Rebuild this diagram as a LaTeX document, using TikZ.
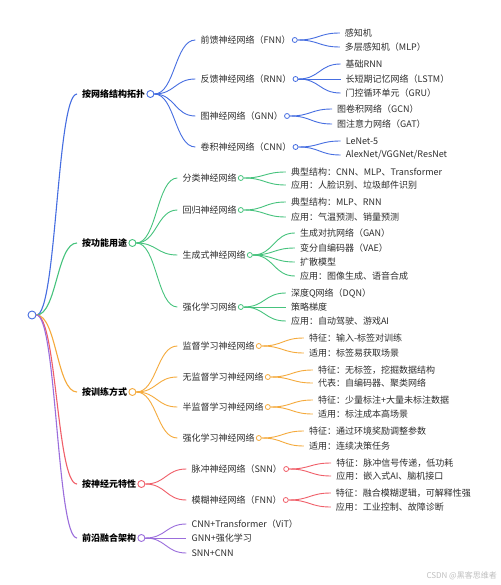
\documentclass[tikz,border=0pt]{standalone}
\usepackage{fontspec}
\setmainfont{Noto Sans CJK SC}
\usetikzlibrary{calc}
\definecolor{blueL}{RGB}{70,110,225}
\definecolor{greenL}{RGB}{70,195,125}
\definecolor{orangeL}{RGB}{245,170,60}
\definecolor{redL}{RGB}{240,95,105}
\definecolor{purpleL}{RGB}{155,110,220}
\definecolor{txtgray}{RGB}{45,45,45}
\tikzset{
  txt/.style={anchor=west, inner sep=0pt, text=txtgray, font=\fontsize{9pt}{11pt}\selectfont},
  l1txt/.style={anchor=west, inner sep=0pt, text=black, font=\fontsize{9pt}{11pt}\selectfont\bfseries},
  dot/.style={circle, draw=#1, fill=white, inner sep=0pt, minimum size=5pt, line width=0.8pt},
  l1dot/.style={circle, draw=#1, fill=white, inner sep=0pt, minimum size=7pt, line width=0.9pt},
  link/.style={draw=#1, line width=0.9pt, to path={let \p1=(\tikztostart), \p2=(\tikztotarget) in
     .. controls ({(\x1+\x2)/2},\y1) and ({(\x1+\x2)/2},\y2) .. (\tikztotarget)}},
}
\newcommand\mmleaf[5]{%
  \coordinate (#2x) at ([xshift=50pt]#1.center);
  \node[txt] (#2) at (#2x |- 0,#3) {#4};
  \draw[link=#5] (#1.east) to ([xshift=-5pt]#2.west);
}
\newcommand\mmmid[5]{%
  \mmleaf{#1}{#2}{#3}{#4}{#5}
  \node[dot=#5] (#2c) at ([xshift=4pt]#2.east) {};
}
\newcommand\mmtop[4]{% name, y, text, color
  \node[l1txt] (#1) at (82,#2) {#3};
  \draw[link=#4, line width=1.1pt] (R.east) to ([xshift=-5pt]#1.west);
  \node[l1dot=#4] (#1c) at ([xshift=5pt]#1.east) {};
}
\begin{document}
\begin{tikzpicture}[x=1pt,y=-1pt]
\fill[white] (0,0) rectangle (500,585);
\useasboundingbox (0,0) rectangle (500,585);
\node[circle, draw=blueL, fill=white, inner sep=0pt, minimum size=8pt, line width=0.9pt] (R) at (32,315) {};
\mmtop{A}{94}{按网络结构拓扑}{blueL}
\mmtop{B}{243}{按功能用途}{greenL}
\mmtop{C}{392}{按训练方式}{orangeL}
\mmtop{D}{484}{按神经元特性}{redL}
\mmtop{E}{538}{前沿融合架构}{purpleL}
% blue
\mmmid{Ac}{A1}{40}{前馈神经网络（FNN）}{blueL}
\mmmid{Ac}{A2}{79}{反馈神经网络（RNN）}{blueL}
\mmmid{Ac}{A3}{116}{图神经网络（GNN）}{blueL}
\mmmid{Ac}{A4}{147}{卷积神经网络（CNN）}{blueL}
\mmleaf{A1c}{A11}{33}{感知机}{blueL}
\mmleaf{A1c}{A12}{47}{多层感知机（MLP）}{blueL}
\mmleaf{A2c}{A21}{64}{基础RNN}{blueL}
\mmleaf{A2c}{A22}{79}{长短期记忆网络（LSTM）}{blueL}
\mmleaf{A2c}{A23}{93}{门控循环单元（GRU）}{blueL}
\mmleaf{A3c}{A31}{109}{图卷积网络（GCN）}{blueL}
\mmleaf{A3c}{A32}{124}{图注意力网络（GAT）}{blueL}
\mmleaf{A4c}{A41}{141}{LeNet-5}{blueL}
\mmleaf{A4c}{A42}{155}{AlexNet/VGGNet/ResNet}{blueL}
% green
\mmmid{Bc}{B1}{178}{分类神经网络}{greenL}
\mmmid{Bc}{B2}{210}{回归神经网络}{greenL}
\mmmid{Bc}{B3}{255}{生成式神经网络}{greenL}
\mmmid{Bc}{B4}{307}{强化学习网络}{greenL}
\mmleaf{B1c}{B11}{172}{典型结构：CNN、MLP、Transformer}{greenL}
\mmleaf{B1c}{B12}{185}{应用：人脸识别、垃圾邮件识别}{greenL}
\mmleaf{B2c}{B21}{202}{典型结构：MLP、RNN}{greenL}
\mmleaf{B2c}{B22}{217}{应用：气温预测、销量预测}{greenL}
\mmleaf{B3c}{B31}{233}{生成对抗网络（GAN）}{greenL}
\mmleaf{B3c}{B32}{248}{变分自编码器（VAE）}{greenL}
\mmleaf{B3c}{B33}{262}{扩散模型}{greenL}
\mmleaf{B3c}{B34}{276}{应用：图像生成、语音合成}{greenL}
\mmleaf{B4c}{B41}{293}{深度Q网络（DQN）}{greenL}
\mmleaf{B4c}{B42}{307}{策略梯度}{greenL}
\mmleaf{B4c}{B43}{321}{应用：自动驾驶、游戏AI}{greenL}
% orange
\mmmid{Cc}{C1}{346}{监督学习神经网络}{orangeL}
\mmmid{Cc}{C2}{377}{无监督学习神经网络}{orangeL}
\mmmid{Cc}{C3}{407}{半监督学习神经网络}{orangeL}
\mmmid{Cc}{C4}{438}{强化学习神经网络}{orangeL}
\mmleaf{C1c}{C11}{338}{特征：输入-标签对训练}{orangeL}
\mmleaf{C1c}{C12}{353}{适用：标签易获取场景}{orangeL}
\mmleaf{C2c}{C21}{370}{特征：无标签，挖掘数据结构}{orangeL}
\mmleaf{C2c}{C22}{383}{代表：自编码器、聚类网络}{orangeL}
\mmleaf{C3c}{C31}{400}{特征：少量标注+大量未标注数据}{orangeL}
\mmleaf{C3c}{C32}{414}{适用：标注成本高场景}{orangeL}
\mmleaf{C4c}{C41}{431}{特征：通过环境奖励调整参数}{orangeL}
\mmleaf{C4c}{C42}{446}{适用：连续决策任务}{orangeL}
% red
\mmmid{Dc}{D1}{469}{脉冲神经网络（SNN）}{redL}
\mmmid{Dc}{D2}{500}{模糊神经网络（FNN）}{redL}
\mmleaf{D1c}{D11}{463}{特征：脉冲信号传递，低功耗}{redL}
\mmleaf{D1c}{D12}{476}{应用：嵌入式AI、脑机接口}{redL}
\mmleaf{D2c}{D21}{493}{特征：融合模糊逻辑，可解释性强}{redL}
\mmleaf{D2c}{D22}{507}{应用：工业控制、故障诊断}{redL}
% purple
\mmleaf{Ec}{E1}{524}{CNN+Transformer（ViT）}{purpleL}
\mmleaf{Ec}{E2}{538}{GNN+强化学习}{purpleL}
\mmleaf{Ec}{E3}{553}{SNN+CNN}{purpleL}
% watermark
\node[anchor=east, inner sep=0pt, text=black!25, font=\fontsize{8pt}{10pt}\selectfont] (wm) at (497,576) {CSDN @黑客思维者};
\end{tikzpicture}
\end{document}
